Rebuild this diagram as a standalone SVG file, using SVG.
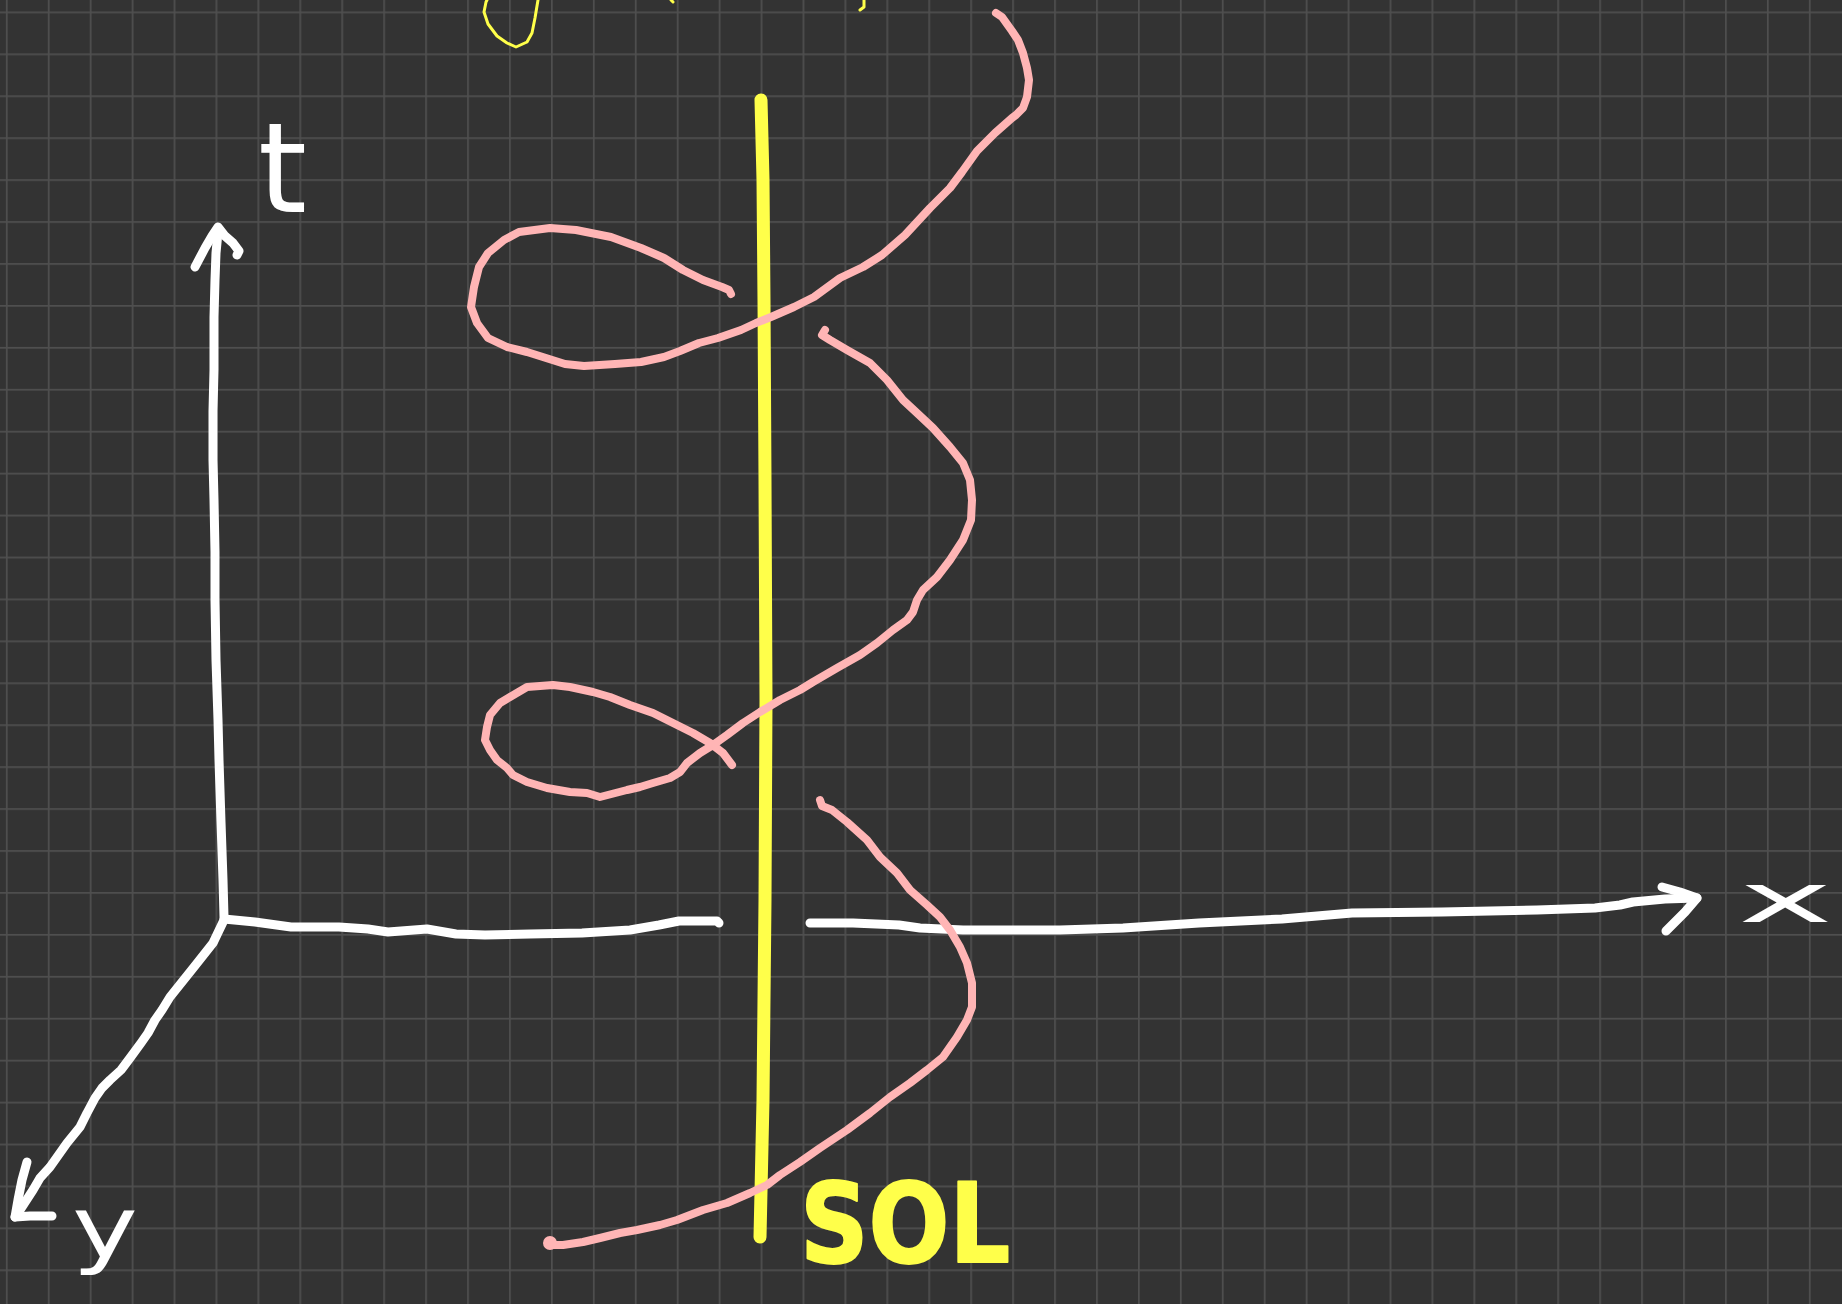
<svg xmlns="http://www.w3.org/2000/svg" width="1842" height="1304" viewBox="0 0 1842 1304">
<style>
.ink{fill:none;stroke-linecap:round;stroke-linejoin:round}
.white{stroke:#ffffff;stroke-width:9}
.pink{stroke:#ffb5b5;stroke-width:8}
.yellow{stroke:#ffff4a}
.lbl{font-family:"DejaVu Sans","Liberation Sans",sans-serif;fill:#ffffff}
.sol{font-family:"DejaVu Sans","Liberation Sans",sans-serif;font-weight:bold;fill:#ffff4a;stroke:#ffff4a;stroke-width:2;stroke-linejoin:round}
</style>
<defs>
<pattern id="grid" patternUnits="userSpaceOnUse" x="5.9" y="11.5" width="41.93" height="41.93">
<rect x="0" y="0" width="1.7" height="41.93" fill="#4f4f4f"/>
<rect x="0" y="0" width="41.93" height="1.7" fill="#4f4f4f"/>
</pattern>
</defs>
<rect width="1842" height="1304" fill="#333333"/>
<rect width="1842" height="1304" fill="url(#grid)"/>

<g id="cut-off-top-strokes" class="ink yellow" stroke-width="3">
<path d="M538,0 L535,18 L532,33 L527,42 L516,47 L507,43 L497,36 L488,24 L484,12 L486,2 L487,0"/>
<path d="M671,0 L673,2"/>
<path d="M864,0 L864,7 L860,10"/>
</g>

<g id="sol-line">
<path class="ink yellow" stroke-width="13" d="M761,100 L763,180 L764,300 L765,480 L766,700 L765,900 L763,1100 L760,1237"/>
</g>

<g id="axes" class="ink white">
<g id="t-axis">
<path d="M224,917 L223,880 L221,822 L219,760 L218,720 L216,660 L215,600 L215,552 L214,500 L213,460 L213,411 L214,370 L214,317 L215,280 L216,253 L218,232"/>
<path d="M195,267 L205,248 L212,236 L218,227 L225,236 L233,243 L239,251 L237,255"/>
</g>
<g id="x-axis">
<path d="M224,919 L255,922 L291,927 L339,927 L368,929 L388,932 L427,929 L456,934 L485,935 L530,934 L582,933 L630,930 L659,925 L679,921 L700,921 L717,921 L719,923"/>
<path d="M810,923 L853,923 L899,925 L920,928 L963,930 L1008,930 L1060,930 L1123,928 L1199,923 L1282,919 L1352,913 L1442,912 L1537,910 L1595,908 L1620,905 L1633,902 L1665,899 L1697,898"/>
<path d="M1662,887 L1680,892 L1697,898 L1685,912 L1672,925 L1666,931"/>
</g>
<g id="y-axis">
<path d="M224,920 L213,943 L194,967 L170,997 L162,1010 L155,1020 L148,1033 L141,1043 L130,1058 L121,1070 L110,1080 L102,1088 L95,1098 L87,1113 L80,1127 L67,1143 L50,1167 L40,1178 L33,1190 L20,1210 L15,1217"/>
<path d="M27,1162 L22,1180 L18,1200 L15,1217 L30,1216 L52,1216"/>
</g>
</g>

<g id="trajectory" class="ink pink">
<path d="M996,13 L1002,17 L1007,24 L1012,31 L1018,40 L1023,53 L1027,68 L1029,80 L1027,97 L1023,108 L1016,115 L1012,118 L995,133 L977,151 L962,172 L950,188 L930,208 L905,235 L882,255 L863,267 L840,278 L814,297 L794,307 L771,317 L756,323 L741,330 L718,338 L699,343 L680,351 L664,357 L641,362 L615,364 L584,366 L565,364 L546,358 L527,352 L507,347 L488,338 L477,323 L471,307 L474,287 L479,267 L488,253 L504,240 L519,232 L550,228 L576,230 L611,237 L641,248 L664,258 L683,270 L703,280 L722,287 L729,290 L731,294"/>
<path d="M825,330 L822,335 L830,340 L847,350 L870,363 L887,380 L903,400 L917,413 L933,428 L950,447 L963,463 L970,480 L972,500 L971,520 L963,540 L950,560 L937,577 L923,590 L917,600 L913,612 L907,620 L893,630 L877,643 L860,655 L837,668 L813,682 L800,690 L780,700 L760,712 L743,723 L727,735 L713,745 L700,753 L687,763 L680,772 L670,778 L653,783 L640,787 L627,790 L600,797 L587,793 L570,792 L547,788 L527,782 L513,775 L507,768 L497,760 L490,750 L485,740 L487,727 L490,715 L500,703 L510,697 L527,687 L553,685 L570,687 L593,692 L610,697 L630,705 L653,713 L677,725 L693,733 L710,743 L723,753 L732,765"/>
<path d="M820,800 L822,806 L832,810 L847,822 L867,840 L880,857 L897,873 L910,890 L927,905 L940,917 L950,930 L960,947 L967,963 L972,983 L972,1007 L967,1020 L957,1037 L943,1057 L927,1070 L910,1083 L890,1097 L870,1113 L847,1130 L820,1148 L800,1162 L780,1175 L767,1185 L750,1193 L727,1203 L703,1210 L677,1220 L660,1225 L637,1230 L620,1233 L600,1238 L583,1242 L563,1245 L552,1245"/>
<circle cx="550" cy="1243" r="7" fill="#ffb5b5" stroke="none"/>
</g>

<g id="labels">
<text id="label-t" class="lbl" x="258" y="212" font-size="125">t</text>
<text id="label-x" class="lbl" x="1738" y="922" font-size="68" textLength="95" lengthAdjust="spacingAndGlyphs">x</text>
<text id="label-y" class="lbl" x="72" y="1257" font-size="85" textLength="66" lengthAdjust="spacingAndGlyphs">y</text>
<text id="label-sol" class="sol" x="800" y="1262" font-size="110" textLength="210" lengthAdjust="spacingAndGlyphs">SOL</text>
</g>
</svg>
